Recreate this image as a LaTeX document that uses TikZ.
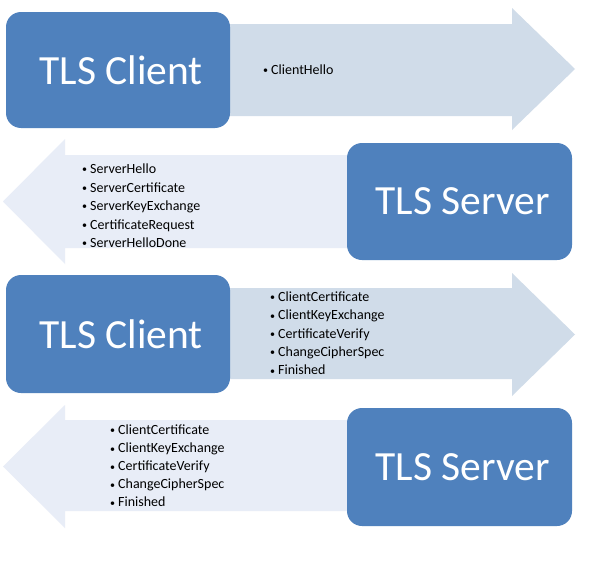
\documentclass[tikz,border=0pt]{standalone}
\usepackage{fontspec}
\setmainfont{Carlito}
\definecolor{boxblue}{HTML}{4F81BD}
\definecolor{rarrow}{HTML}{D0DCE9}
\definecolor{larrow}{HTML}{E8EDF7}
\newcommand{\mybul}{\makebox[8pt][l]{\raisebox{0.6pt}{\fontsize{10}{10}\selectfont •}}}
\begin{document}
\begin{tikzpicture}[x=1pt,y=-1pt,
  bigbox/.style={fill=boxblue, draw=none, rounded corners=15pt, text=white,
    font=\fontsize{41.5}{48}\selectfont, inner sep=0pt},
  item/.style={anchor=base west, inner sep=0pt, font=\fontsize{14}{16}\selectfont, text=black}]
\useasboundingbox[fill=white] (0,0) rectangle (592,562);
% row 1: client -> server
\fill[rarrow] (118,24) -- (512,24) -- (512,8) -- (575,69) -- (512,130) -- (512,116) -- (118,116) -- cycle;
\node[bigbox, minimum width=224pt, minimum height=116pt] (c1) at (118,70) {\hspace*{6pt}TLS Client};
\node[item] (h1) at (263,74.5) {\mybul ClientHello};
% row 2: server -> client
\fill[larrow] (459,155) -- (65,155) -- (65,139) -- (3,201.5) -- (65,264) -- (65,248) -- (459,248) -- cycle;
\node[bigbox, minimum width=225pt, minimum height=117pt] (s1) at (459.5,201.5) {\hspace*{6pt}TLS Server};
\foreach \t [count=\i] in {ServerHello,ServerCertificate,ServerKeyExchange,CertificateRequest,ServerHelloDone}
  \node[item] (a\i) at (82,{173.5+18.5*(\i-1)}) {\mybul\t};
% row 3: client -> server
\fill[rarrow] (118,288) -- (512,288) -- (512,273) -- (575,334.5) -- (512,396) -- (512,379) -- (118,379) -- cycle;
\node[bigbox, minimum width=224pt, minimum height=118pt] (c2) at (118,334) {\hspace*{6pt}TLS Client};
\foreach \t [count=\i] in {ClientCertificate,ClientKeyExchange,CertificateVerify,ChangeCipherSpec,Finished}
  \node[item] (b\i) at (270,{301.5+18.3*(\i-1)}) {\mybul\t};
% row 4: server -> client
\fill[larrow] (459,420) -- (65,420) -- (65,405) -- (3,466.5) -- (65,528) -- (65,511) -- (459,511) -- cycle;
\node[bigbox, minimum width=225pt, minimum height=118pt] (s2) at (459.5,467) {\hspace*{6pt}TLS Server};
\foreach \t [count=\i] in {ClientCertificate,ClientKeyExchange,CertificateVerify,ChangeCipherSpec,Finished}
  \node[item] (d\i) at (110,{434.5+18.1*(\i-1)}) {\mybul\t};
\end{tikzpicture}
\end{document}
